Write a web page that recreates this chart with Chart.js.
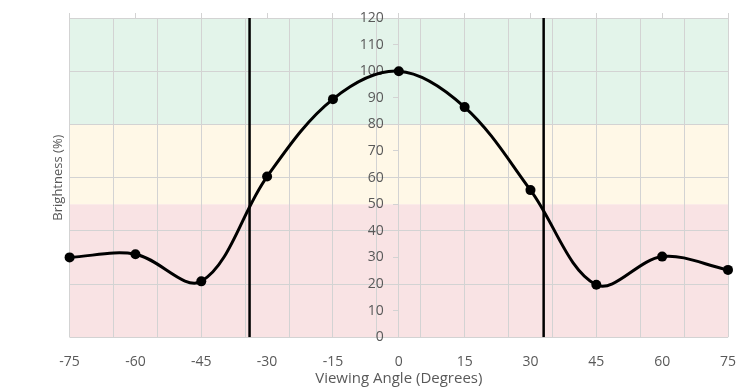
<!DOCTYPE html>
<html>
<head>
<meta charset="utf-8">
<script src="https://cdn.jsdelivr.net/npm/chart.js@4"></script>
<style>
  html, body { margin: 0; padding: 0; background: #fff; }
  #wrap { width: 756px; height: 390px; }
</style>
</head>
<body>
<div id="wrap"><canvas id="viewChart"></canvas></div>
<script>
// data
const angles = [-75, -60, -45, -30, -15, 0, 15, 30, 45, 60, 75];
const brightness = [30, 31.2, 21, 60.4, 89.5, 100, 86.5, 55.3, 19.7, 30.3, 25.3];
const limitAngles = [-34, 33];
const bandLimits = [0, 50, 80, 120];
const bandColors = ['#f9e3e4', '#fff8e7', '#e3f4ea'];

const gridGray = '#d3d3d3';
const textGray = '#595959';
const font = { family: 'Open Sans', size: 14 };

// coloured bands behind the grid
const bandPlugin = {
    id: 'bands',
    beforeDraw(chart) {
        const { ctx, chartArea } = chart;
        const y = chart.scales.y;
        ctx.save();
        for (let i = 0; i < bandColors.length; i++) {
            const top = y.getPixelForValue(bandLimits[i + 1]);
            const bottom = y.getPixelForValue(bandLimits[i]);
            ctx.fillStyle = bandColors[i];
            ctx.fillRect(chartArea.left, top, chartArea.right - chartArea.left, bottom - top);
        }
        ctx.restore();
    }
};

const limitSets = limitAngles.map(a => ({
    data: [{ x: a, y: bandLimits[0] }, { x: a, y: bandLimits[bandLimits.length - 1] }],
    borderColor: '#000',
    borderWidth: 2.5,
    pointRadius: 0,
    tension: 0
}));

const ctx = document.getElementById('viewChart').getContext('2d');
const chart = new Chart(ctx, {
    type: 'line',
    data: {
        datasets: [
            {
                data: angles.map((a, i) => ({ x: a, y: brightness[i] })),
                borderColor: '#000',
                backgroundColor: '#000',
                borderWidth: 3,
                pointRadius: 5,
                pointBackgroundColor: '#000',
                pointBorderWidth: 0,
                tension: 0.35,
                clip: false
            },
            ...limitSets
        ]
    },
    options: {
        responsive: true,
        maintainAspectRatio: false,
        animation: false,
        layout: { padding: { left: 47, right: 28, top: 13, bottom: 2 } },
        plugins: {
            legend: { display: false },
            tooltip: { enabled: false }
        },
        scales: {
            x: {
                type: 'linear',
                position: 'bottom',
                min: -75,
                max: 75,
                ticks: { stepSize: 15, color: textGray, font: font, padding: 16 },
                grid: { display: false, drawTicks: false },
                border: { display: false },
                title: {
                    display: true,
                    text: 'Viewing Angle (Degrees)',
                    color: textGray,
                    font: { family: 'Open Sans', size: 15 },
                    padding: { top: -16, bottom: 0 }
                }
            },
            xg: {
                type: 'linear',
                position: 'top',
                min: -75,
                max: 75,
                ticks: { stepSize: 5, display: false },
                grid: {
                    drawTicks: true,
                    tickLength: 5,
                    color: c => ((c.tick.value + 75) % 10 === 0 ? gridGray : 'rgba(0,0,0,0)'),
                    tickColor: c => ((c.tick.value + 75) % 15 === 0 ? gridGray : 'rgba(0,0,0,0)')
                },
                border: { display: false }
            },
            y: {
                type: 'linear',
                position: { x: 0 },
                min: 0,
                max: 120,
                ticks: { stepSize: 10, display: false },
                grid: {
                    drawTicks: true,
                    tickLength: 5,
                    color: c => (c.tick.value % 20 === 0 ? gridGray : 'rgba(0,0,0,0)'),
                    tickColor: gridGray
                },
                border: { display: true, color: gridGray }
            },
            // labels of the centre axis, set a little left of the axis line
            yLabels: {
                type: 'linear',
                position: { x: -3.4 },
                min: 0,
                max: 120,
                ticks: { stepSize: 10, color: textGray, font: font },
                grid: { display: false, drawTicks: false },
                border: { display: false }
            },
            yTitle: {
                type: 'linear',
                position: 'left',
                min: 0,
                max: 120,
                ticks: { display: false },
                grid: { display: false, drawTicks: false },
                border: { display: false },
                title: {
                    display: true,
                    text: 'Brightness (%)',
                    color: textGray,
                    font: { family: 'Open Sans', size: 13 },
                    padding: { top: 3, bottom: 4 }
                }
            }
        }
    },
    plugins: [bandPlugin]
});
</script>
</body>
</html>
